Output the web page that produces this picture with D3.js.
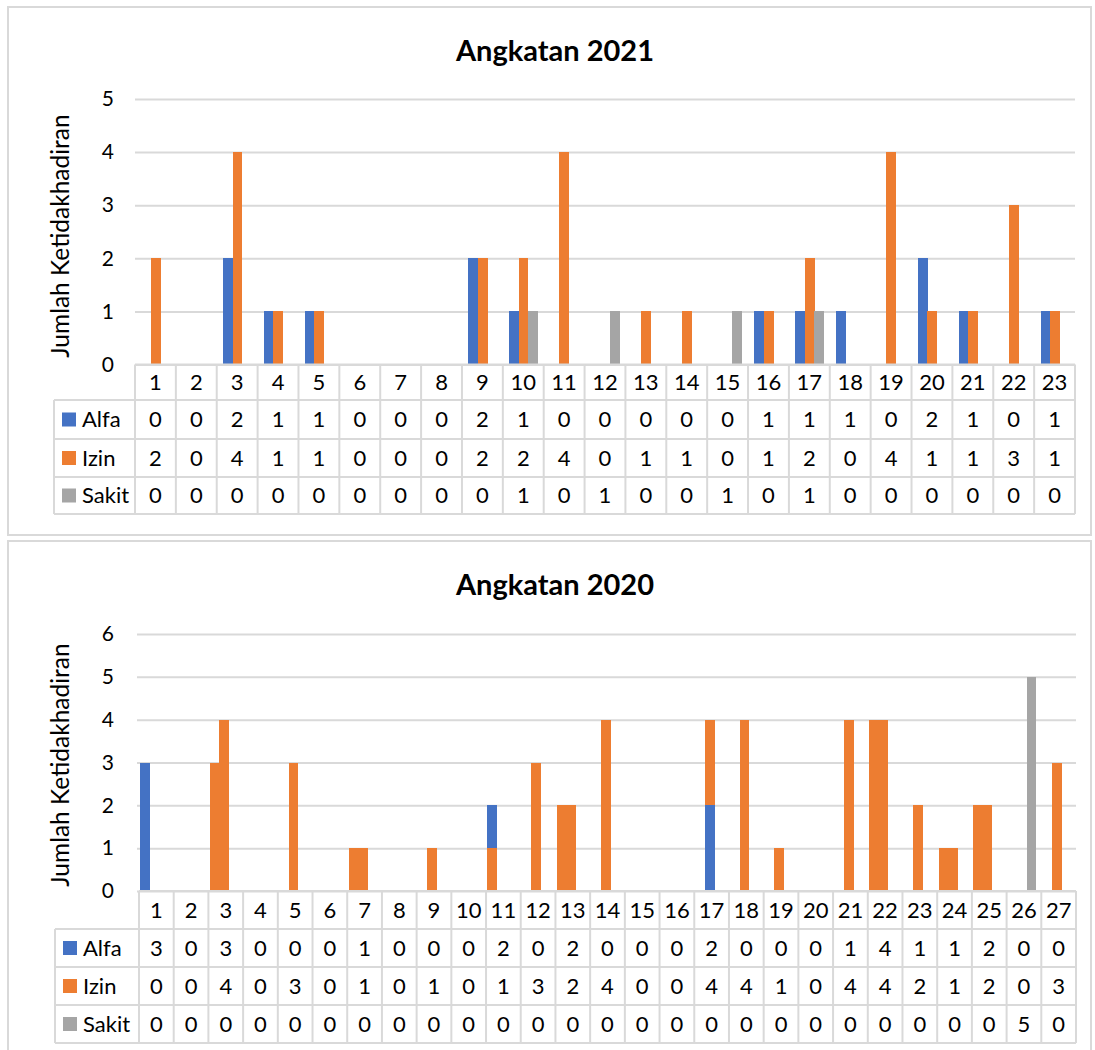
<!DOCTYPE html>
<html><head><meta charset="utf-8">
<script src="https://cdn.jsdelivr.net/npm/d3@7"></script>
<style>body{margin:0;background:#fff}svg{display:block}text{font-family:Lato,"Open Sans",sans-serif;fill:#000}</style>
</head><body>
<svg id="c" width="1095" height="1050"></svg>
<script>
// ---------- data ----------
const seriesNames = ["Alfa", "Izin", "Sakit"];

const cats2021 = ["1","2","3","4","5","6","7","8","9","10","11","12","13","14","15","16","17","18","19","20","21","22","23"];
const alfa2021  = [0,0,2,1,1,0,0,0,2,1,0,0,0,0,0,1,1,1,0,2,1,0,1];
const izin2021  = [2,0,4,1,1,0,0,0,2,2,4,0,1,1,0,1,2,0,4,1,1,3,1];
const sakit2021 = [0,0,0,0,0,0,0,0,0,1,0,1,0,0,1,0,1,0,0,0,0,0,0];
const yTicks2021 = [0,1,2,3,4,5];

const cats2020 = ["1","2","3","4","5","6","7","8","9","10","11","12","13","14","15","16","17","18","19","20","21","22","23","24","25","26","27"];
const alfa2020  = [3,0,3,0,0,0,1,0,0,0,2,0,2,0,0,0,2,0,0,0,1,4,1,1,2,0,0];
const izin2020  = [0,0,4,0,3,0,1,0,1,0,1,3,2,4,0,0,4,4,1,0,4,4,2,1,2,0,3];
const sakit2020 = [0,0,0,0,0,0,0,0,0,0,0,0,0,0,0,0,0,0,0,0,0,0,0,0,0,5,0];
const yTicks2020 = [0,1,2,3,4,5,6];

// bars as they appear in the 2020 picture (per cluster slot, stacked parts)
const alfaSlotOrange2020 = [0,0,3,0,0,0,1,0,0,0,1,0,2,0,0,0,0,0,0,0,0,4,0,1,2,0,0];
const alfaSlotBlue2020   = [3,0,0,0,0,0,0,0,0,0,1,0,0,0,0,0,0,0,0,0,0,0,0,0,0,0,0];
const izinSlotBlue2020   = [0,0,0,0,0,0,0,0,0,0,0,0,0,0,0,0,2,0,0,0,0,0,0,0,0,0,0];
const izinSlotOrange2020 = [0,0,4,0,3,0,1,0,1,0,0,3,2,4,0,0,2,4,1,0,4,4,2,1,2,0,3];
const sakitSlot2020      = [0,0,0,0,0,0,0,0,0,0,0,0,0,0,0,0,0,0,0,0,0,0,0,0,0,5,0];

// ---------- styles ----------
const COL = {Alfa:"#4472C4", Izin:"#ED7D31", Sakit:"#A5A5A5"};
const LINE = "#d9d9d9";
const svg = d3.select("#c");

function drawChart(o) {
  const g = svg.append("g");
  g.append("rect").attr("x", o.frame[0]).attr("y", o.frame[1])
    .attr("width", o.frame[2]).attr("height", o.frame[3])
    .attr("fill", "#fff").attr("stroke", LINE).attr("stroke-width", 2);
  g.append("text").attr("x", 555).attr("y", o.titleY).attr("text-anchor", "middle")
    .style("font-size", "29px").style("font-weight", "700").text(o.title);

  const x = d3.scaleBand().domain(o.cats).range(o.xRange);
  const y = d3.scaleLinear().domain([0, d3.max(o.ticks)]).range(o.yRange);

  const grid = g.append("g").attr("transform", `translate(${o.gridX0},0)`)
    .call(d3.axisLeft(y).tickValues(o.ticks).tickSize(-(o.xRange[1] - o.gridX0)).tickFormat(""));
  grid.select(".domain").remove();
  grid.selectAll(".tick line").attr("stroke", LINE).attr("stroke-width", 2);

  const ya = g.append("g").attr("transform", `translate(114,0)`)
    .call(d3.axisLeft(y).tickValues(o.ticks).tickSize(0).tickPadding(0).tickFormat(d3.format("d")));
  ya.select(".domain").remove();
  ya.selectAll("text").style("font-size", "21px").attr("font-family", null);

  g.append("text").attr("transform", `translate(69,${o.yTitleY}) rotate(-90)`)
    .attr("text-anchor", "middle").style("font-size", "24.5px").text("Jumlah Ketidakhadiran");

  const inner = d3.scaleBand().domain(seriesNames).range([-14, 14]);
  o.slots.forEach(slot => {
    let base = o.cats.map(() => 0);
    slot.parts.forEach(part => {
      const lo = base.slice();
      base = base.map((b, i) => b + part.vals[i]);
      g.append("g").attr("shape-rendering", "crispEdges").selectAll("rect").data(o.cats)
        .join("rect")
        .attr("x", (c) => x(c) + x.bandwidth() / 2 + inner(slot.name) + (o.slotShift || 0))
        .attr("width", inner.bandwidth() + 0.5)
        .attr("y", (c, i) => y(base[i]))
        .attr("height", (c, i) => y(lo[i]) - y(base[i]))
        .attr("fill", COL[part.color]);
    });
  });

  const h0 = o.yRange[0], h1 = o.rowY[0];
  const rowY = o.rowY;
  const lines = g.append("g").attr("stroke", LINE).attr("stroke-width", 2);
  lines.append("line").attr("x1", o.xRange[0]).attr("x2", o.xRange[1]).attr("y1", h0).attr("y2", h0);
  rowY.forEach(yy => lines.append("line").attr("x1", o.legX).attr("x2", o.xRange[1]).attr("y1", yy).attr("y2", yy));
  o.cats.forEach(c => lines.append("line").attr("x1", x(c)).attr("x2", x(c)).attr("y1", h0).attr("y2", rowY[rowY.length - 1]));
  lines.append("line").attr("x1", o.xRange[1]).attr("x2", o.xRange[1]).attr("y1", h0).attr("y2", rowY[rowY.length - 1]);
  lines.append("line").attr("x1", o.legX).attr("x2", o.legX).attr("y1", rowY[0]).attr("y2", rowY[rowY.length - 1]);

  const xa = g.append("g").attr("transform", `translate(0,${(h0 + h1) / 2})`)
    .call(d3.axisBottom(x).tickSize(0).tickPadding(0));
  xa.select(".domain").remove();
  xa.selectAll("text").attr("y", 0).attr("dy", "0.36em").style("font-size", "22px").attr("font-family", null);

  o.rows.forEach((r, ri) => {
    const cy = (rowY[ri] + rowY[ri + 1]) / 2;
    g.append("rect").attr("x", o.legX + 8).attr("y", cy - 7).attr("width", 14).attr("height", 14).attr("fill", COL[r.name]);
    g.append("text").attr("x", o.legX + 28).attr("y", cy).attr("dy", "0.36em").style("font-size", "22px").text(r.name);
    g.append("g").selectAll("text").data(o.cats).join("text")
      .attr("x", c => x(c) + x.bandwidth() / 2).attr("y", cy).attr("dy", "0.36em")
      .attr("text-anchor", "middle").style("font-size", "22px")
      .text((c, i) => r.vals[i]);
  });
}

drawChart({
  frame: [8, 7, 1083, 528], title: "Angkatan 2021", titleY: 61,
  cats: cats2021, ticks: yTicks2021,
  xRange: [135, 1075], gridX0: 135, yRange: [364.5, 99], yTitleY: 236,
  legX: 54, rowY: [400, 439, 477, 514],
  slots: [
    {name: "Alfa", parts: [{vals: alfa2021, color: "Alfa"}]},
    {name: "Izin", parts: [{vals: izin2021, color: "Izin"}]},
    {name: "Sakit", parts: [{vals: sakit2021, color: "Sakit"}]}
  ],
  rows: [{name: "Alfa", vals: alfa2021}, {name: "Izin", vals: izin2021}, {name: "Sakit", vals: sakit2021}]
});

drawChart({
  frame: [8, 541, 1083, 520], title: "Angkatan 2020", titleY: 595,
  cats: cats2020, ticks: yTicks2020,
  xRange: [139, 1076], gridX0: 137, yRange: [891, 634], yTitleY: 765,
  legX: 55, rowY: [929, 967, 1005, 1043], slotShift: -2,
  slots: [
    {name: "Alfa", parts: [{vals: alfaSlotOrange2020, color: "Izin"}, {vals: alfaSlotBlue2020, color: "Alfa"}]},
    {name: "Izin", parts: [{vals: izinSlotBlue2020, color: "Alfa"}, {vals: izinSlotOrange2020, color: "Izin"}]},
    {name: "Sakit", parts: [{vals: sakitSlot2020, color: "Sakit"}]}
  ],
  rows: [{name: "Alfa", vals: alfa2020}, {name: "Izin", vals: izin2020}, {name: "Sakit", vals: sakit2020}]
});
</script>
</body></html>
